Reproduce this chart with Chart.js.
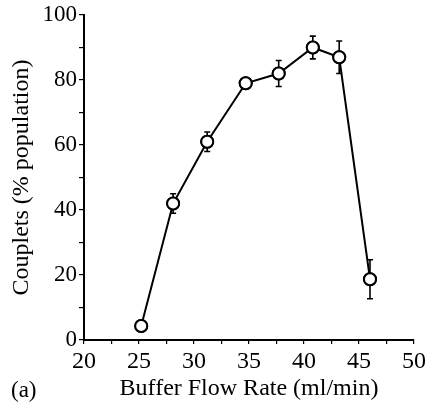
<!DOCTYPE html>
<html><head><meta charset="utf-8">
<script src="https://cdn.jsdelivr.net/npm/chart.js@4.4.0/dist/chart.umd.min.js"></script>
<style>html,body{margin:0;padding:0;background:#fff}#wrap{width:427px;height:405px}</style>
</head><body><div id="wrap"><canvas id="c" width="427" height="405"></canvas></div>
<script>
const flowRate = [25.2, 28.1, 31.2, 34.7, 37.7, 40.8, 43.2, 46.0];
const couplets = [4.3, 42, 61, 79, 82, 90, 87, 18.7];
const errors   = [1.5, 3, 3, 1.5, 4, 3.5, 5, 6];
const xTicks = [20, 25, 30, 35, 40, 45, 50];
const yTicks = [0, 20, 40, 60, 80, 100];

const FONT = "'Liberation Serif','Times New Roman',serif";

const errorBars = {
  id: 'errorBars',
  afterDatasetsDraw(chart) {
    const ctx = chart.ctx, xs = chart.scales.x, ys = chart.scales.y;
    ctx.save();
    ctx.strokeStyle = '#000'; ctx.lineWidth = 1.6;
    flowRate.forEach((xv, i) => {
      const px = xs.getPixelForValue(xv);
      const top = ys.getPixelForValue(couplets[i] + errors[i]);
      const bot = ys.getPixelForValue(couplets[i] - errors[i]);
      ctx.beginPath();
      ctx.moveTo(px, top); ctx.lineTo(px, bot);
      ctx.moveTo(px - 3, top); ctx.lineTo(px + 3, top);
      ctx.moveTo(px - 3, bot); ctx.lineTo(px + 3, bot);
      ctx.stroke();
    });
    ctx.restore();
  }
};
const pointsOnTop = {
  id: 'pointsOnTop',
  afterDraw(chart) {
    const meta = chart.getDatasetMeta(0);
    meta.data.forEach(p => p.draw(chart.ctx, chart.chartArea));
    const ctx = chart.ctx;
    ctx.save();
    ctx.font = "23px " + FONT; ctx.fillStyle = '#000';
    ctx.textBaseline = 'alphabetic'; ctx.textAlign = 'left';
    ctx.fillText('(a)', 11, 397);
    ctx.restore();
  }
};

new Chart(document.getElementById('c'), {
  type: 'line',
  data: {
    datasets: [{
      data: flowRate.map((x, i) => ({x, y: couplets[i]})),
      borderColor: '#000', borderWidth: 2,
      pointRadius: 6, pointBackgroundColor: '#fff', pointBorderColor: '#000', pointBorderWidth: 2,
      tension: 0, clip: false
    }]
  },
  options: {
    responsive: false, animation: false,
    layout: { padding: { left: 4, right: 13, top: 15, bottom: 2 } },
    plugins: { legend: { display: false }, tooltip: { enabled: false } },
    scales: {
      x: {
        type: 'linear', min: 20, max: 50,
        afterBuildTicks(s) { s.ticks = []; for (let v = 20; v <= 50; v += 2.5) s.ticks.push({value: v}); },
        border: { display: true, color: '#000', width: 2 },
        grid: { drawOnChartArea: false, color: '#000', tickLength: 4, lineWidth: 1.2 },
        ticks: { color: '#000', font: { family: FONT, size: 24 }, padding: 3, maxRotation: 0,
          callback: v => xTicks.includes(v) ? String(v) : '' },
        title: { display: true, text: 'Buffer Flow Rate (ml/min)', color: '#000',
          font: { family: FONT, size: 24 }, padding: { top: 0, bottom: 0 } },
        afterFit(s) { s.height = 63; s.paddingRight = 0; s.paddingLeft = 0; }
      },
      y: {
        type: 'linear', min: 0, max: 100,
        afterBuildTicks(s) { s.ticks = []; for (let v = 0; v <= 100; v += 10) s.ticks.push({value: v}); },
        border: { display: true, color: '#000', width: 2 },
        grid: { drawOnChartArea: false, color: '#000', tickLength: 5, lineWidth: 1.2 },
        ticks: { color: '#000', font: { family: FONT, size: 23 }, padding: 2,
          callback: v => yTicks.includes(v) ? String(v) : '' },
        title: { display: true, text: 'Couplets (% population)', color: '#000',
          font: { family: FONT, size: 24 }, padding: { top: 3, bottom: 0 } },
        afterFit(s) { s.width = 80; s.paddingTop = 0; s.paddingBottom = 0; }
      }
    }
  },
  plugins: [errorBars, pointsOnTop]
});
</script></body></html>
